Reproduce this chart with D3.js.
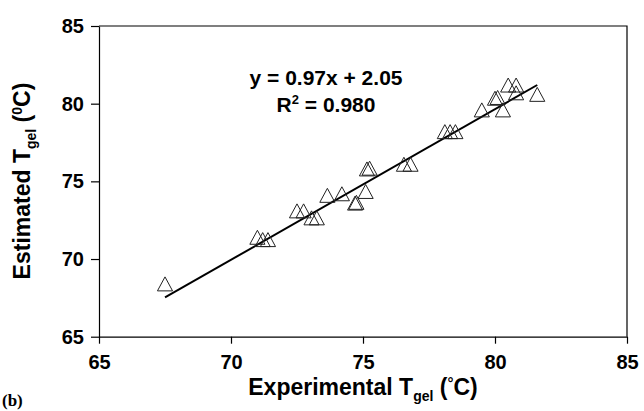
<!DOCTYPE html>
<html>
<head>
<meta charset="utf-8">
<script src="https://cdnjs.cloudflare.com/ajax/libs/d3/7.8.5/d3.min.js"></script>
<style>
    body { margin: 0; background: #ffffff; }
    svg { display: block; font-family: 'Liberation Sans', Arial, sans-serif; }
</style>
</head>
<body>
<div id="chart"></div>
<script>
'use strict';

// experimental vs estimated gel temperature (deg C)
var expTgel = [67.5, 71.0, 71.2, 71.4, 72.5, 72.75, 73.05, 73.25, 73.65, 74.2,
    74.7, 74.75, 75.1, 75.15, 75.25, 76.55, 76.8, 78.1, 78.3, 78.5,
    79.5, 80.0, 80.1, 80.3, 80.5, 80.8, 80.8, 81.6];
var estTgel = [68.4, 71.4, 71.25, 71.25, 73.1, 73.1, 72.65, 72.65, 74.1, 74.2,
    73.6, 73.65, 74.35, 75.8, 75.85, 76.1, 76.1, 78.2, 78.2, 78.2,
    79.6, 80.35, 80.4, 79.6, 81.2, 81.2, 80.7, 80.6];
var xTicks = [65, 70, 75, 80, 85];
var yTicks = [65, 70, 75, 80, 85];
var fitSlope = 0.97;
var fitIntercept = 2.05;
var fitRange = [67.5, 81.6];

var width = 644,
    height = 411;

var svg = d3.select('#chart')
    .append('svg')
    .attr('width', width)
    .attr('height', height);

var x = d3.scaleLinear().domain([65, 85]).range([99, 627]);
var y = d3.scaleLinear().domain([65, 85]).range([336.7, 26]);

// frame (top + right)
svg.append('path')
    .attr('d', 'M' + x(65) + ',' + y(85) + 'H' + x(85) + 'V' + y(65))
    .attr('fill', 'none')
    .attr('stroke', '#000')
    .attr('stroke-width', 1.2);

var xAxis = svg.append('g')
    .attr('transform', 'translate(0,' + y(65) + ')')
    .call(d3.axisBottom(x).tickValues(xTicks).tickSize(7).tickPadding(11).tickSizeOuter(0));

var yAxis = svg.append('g')
    .attr('transform', 'translate(' + x(65) + ',0)')
    .call(d3.axisLeft(y).tickValues(yTicks).tickSize(8).tickPadding(7).tickSizeOuter(0));

[xAxis, yAxis].forEach(function(g) {
    g.select('.domain').attr('stroke', '#000').attr('stroke-width', 1.2);
    g.selectAll('.tick line').attr('stroke', '#000').attr('stroke-width', 1.2);
    g.selectAll('.tick text')
        .attr('fill', '#000')
        .style('font-family', "'Liberation Sans', Arial, sans-serif")
        .style('font-size', '20px')
        .style('font-weight', 'bold');
});

// regression line
svg.append('line')
    .attr('x1', x(fitRange[0]))
    .attr('y1', y(fitSlope * fitRange[0] + fitIntercept))
    .attr('x2', x(fitRange[1]))
    .attr('y2', y(fitSlope * fitRange[1] + fitIntercept))
    .attr('stroke', '#000')
    .attr('stroke-width', 2);

// open triangle, centred on its bounding box
var triangle = {
    draw: function(context, size) {
        var h = Math.sqrt(size);
        context.moveTo(0, -h / 2);
        context.lineTo(h * 0.54, h / 2);
        context.lineTo(-h * 0.54, h / 2);
        context.closePath();
    }
};

svg.append('g')
    .selectAll('path')
    .data(expTgel)
    .enter()
    .append('path')
    .attr('transform', function(d, i) {
        return 'translate(' + x(d) + ',' + y(estTgel[i]) + ')';
    })
    .attr('d', d3.symbol().type(triangle).size(196))
    .attr('fill', 'none')
    .attr('stroke', '#222')
    .attr('stroke-width', 1);

// equation text
var eq = svg.append('text')
    .attr('text-anchor', 'middle')
    .style('font-size', '21px')
    .style('font-weight', 'bold');
eq.append('tspan').attr('x', 326).attr('y', 85).text('y = 0.97x + 2.05');
var r2 = eq.append('tspan').attr('x', 326).attr('y', 112);
r2.append('tspan').text('R');
r2.append('tspan').attr('dy', -8).style('font-size', '13px').text('2');
r2.append('tspan').attr('dy', 8).text(' = 0.980');

// axis titles
var xt = svg.append('text')
    .attr('x', 363)
    .attr('y', 395)
    .attr('text-anchor', 'middle')
    .style('font-size', '23px')
    .style('font-weight', 'bold');
xt.append('tspan').text('Experimental T');
xt.append('tspan').attr('dy', 6).style('font-size', '14px').text('gel');
xt.append('tspan').attr('dy', -6).text(' (');
xt.append('tspan').attr('dy', -7).style('font-size', '15px').text('°');
xt.append('tspan').attr('dy', 7).text('C)');

var yt = svg.append('text')
    .attr('transform', 'translate(30,181) rotate(-90)')
    .attr('text-anchor', 'middle')
    .style('font-size', '23px')
    .style('font-weight', 'bold');
yt.append('tspan').text('Estimated T');
yt.append('tspan').attr('dy', 6).style('font-size', '14px').text('gel');
yt.append('tspan').attr('dy', -6).text(' (');
yt.append('tspan').attr('dy', -8).style('font-size', '14px').text('0');
yt.append('tspan').attr('dy', 8).text('C)');

svg.append('text')
    .attr('x', 2)
    .attr('y', 406)
    .style('font-family', "'Liberation Serif', 'Times New Roman', serif")
    .style('font-size', '17px')
    .style('font-weight', 'bold')
    .text('(b)');
</script>
</body>
</html>
